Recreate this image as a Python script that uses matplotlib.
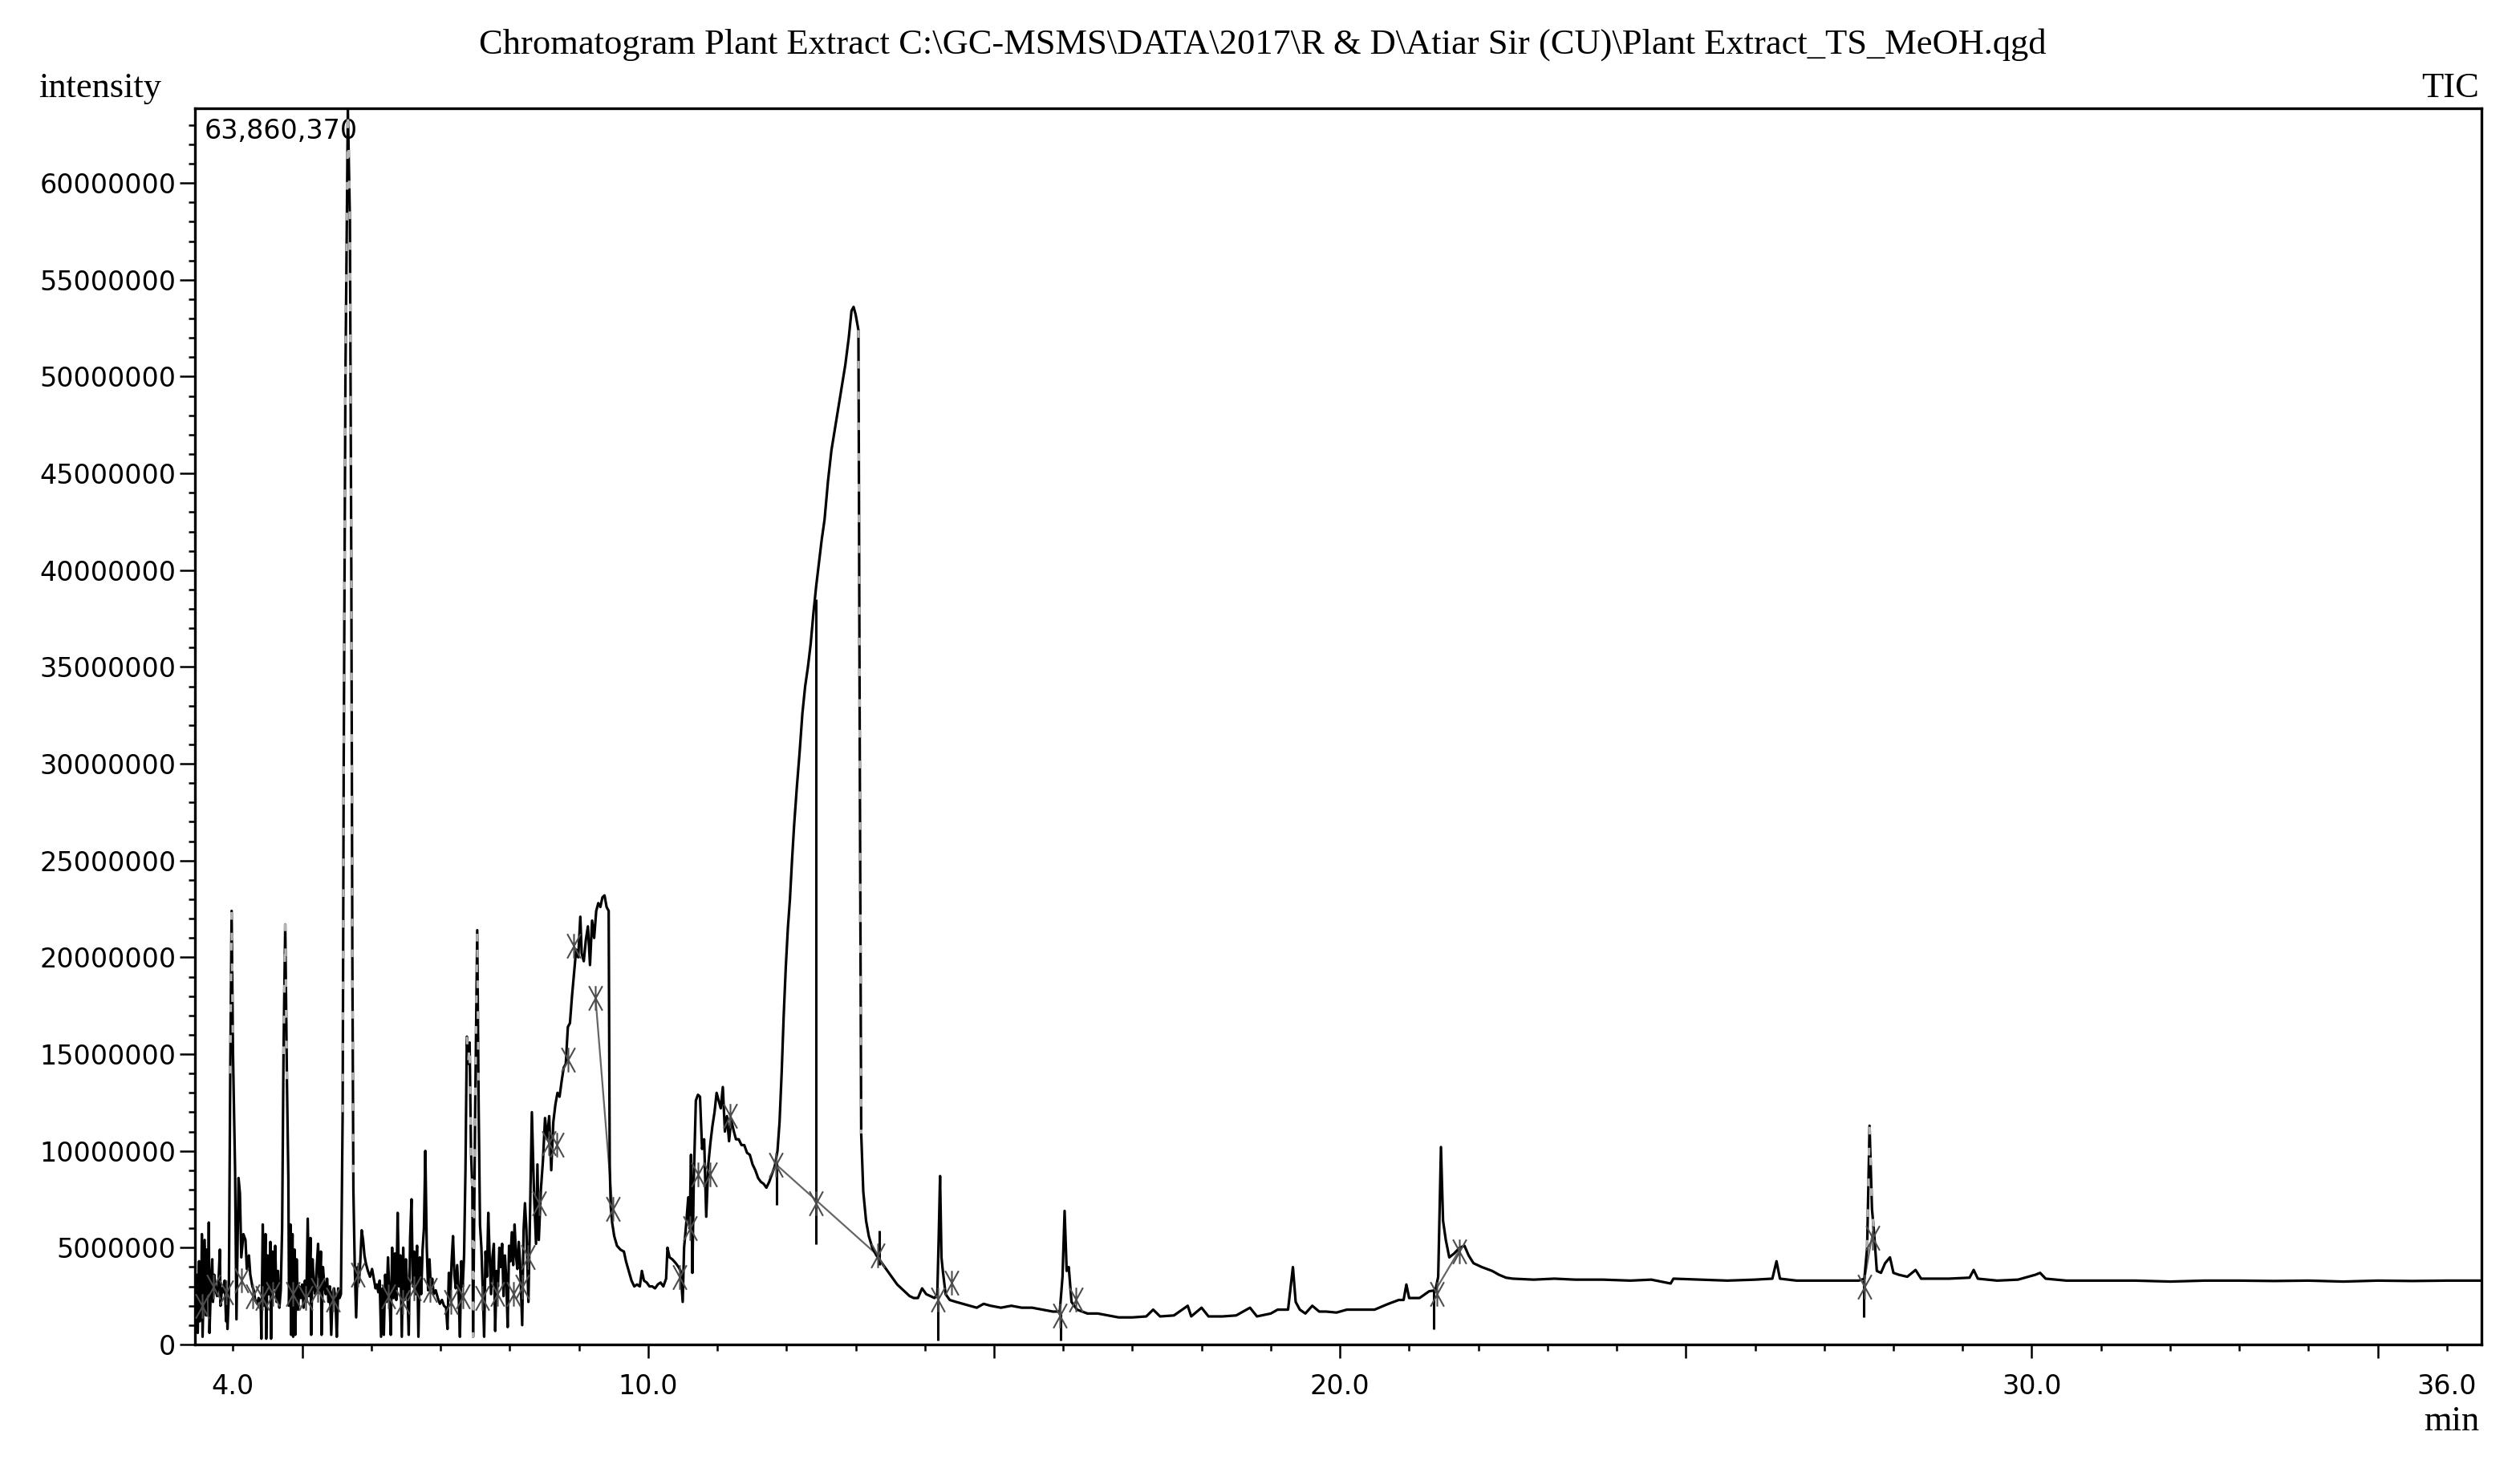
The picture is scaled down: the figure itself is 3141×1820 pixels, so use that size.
import numpy as np
import matplotlib.pyplot as plt
from matplotlib.path import Path
from matplotlib.ticker import MultipleLocator, NullFormatter, FuncFormatter


# TIC trace: (retention time in min, intensity in millions)
front = [(3.46, 1.6), (3.48, 3.6), (3.49, 0.6), (3.51, 4.3), (3.52, 1.2), (3.54, 2.4), (3.55, 5.7),
         (3.56, 0.4), (3.58, 3.8), (3.59, 5.4), (3.61, 1.5), (3.62, 4.9), (3.64, 2.6), (3.65, 6.3),
         (3.66, 0.6), (3.68, 3.0), (3.70, 4.4), (3.71, 2.2), (3.73, 3.6), (3.75, 2.8), (3.77, 2.5),
         (3.79, 3.2), (3.81, 4.9), (3.82, 2.0), (3.84, 2.9), (3.86, 2.7), (3.88, 3.3), (3.90, 1.2),
         (3.91, 2.4), (3.92, 0.8), (3.94, 2.6), (3.96, 14.0), (3.98, 22.4), (4.00, 15.0), (4.03, 9.0),
         (4.05, 1.3), (4.08, 8.6), (4.10, 7.8), (4.12, 4.5), (4.15, 5.7), (4.18, 5.4), (4.20, 3.9),
         (4.23, 4.6), (4.25, 3.6), (4.28, 3.0), (4.30, 2.8), (4.32, 2.3), (4.35, 2.1), (4.37, 2.4),
         (4.40, 2.2), (4.41, 0.3), (4.43, 6.2), (4.45, 2.0), (4.47, 5.7), (4.48, 0.3), (4.50, 4.6),
         (4.52, 2.6), (4.54, 5.3), (4.55, 0.3), (4.57, 4.8), (4.59, 2.9), (4.61, 5.1), (4.63, 2.2),
         (4.65, 3.8), (4.67, 1.9), (4.69, 2.8), (4.71, 6.0), (4.73, 15.0), (4.755, 21.7), (4.78, 13.5),
         (4.80, 8.6), (4.81, 2.0), (4.83, 6.2), (4.84, 0.5), (4.86, 5.7), (4.87, 0.4), (4.89, 4.9),
         (4.90, 0.5), (4.92, 4.4), (4.94, 1.8), (4.96, 3.0), (4.98, 2.4), (5.00, 3.1), (5.02, 1.9),
         (5.04, 3.3), (5.06, 2.2), (5.08, 6.5), (5.10, 2.5), (5.12, 5.5), (5.13, 0.5), (5.15, 4.4),
         (5.17, 3.0), (5.19, 2.6), (5.21, 4.0), (5.23, 5.2), (5.25, 2.8), (5.27, 4.8), (5.28, 0.5),
         (5.30, 4.0), (5.32, 3.1), (5.34, 2.6), (5.36, 3.4), (5.38, 2.2), (5.40, 3.0), (5.42, 0.5),
         (5.44, 2.7), (5.46, 2.9), (5.48, 2.4), (5.50, 0.4), (5.52, 2.9), (5.54, 2.4), (5.56, 2.6),
         (5.585, 12.0), (5.60, 30.0), (5.625, 50.0), (5.66, 63.86), (5.69, 58.0), (5.71, 40.0),
         (5.725, 20.0), (5.74, 8.0), (5.76, 4.0), (5.78, 1.4), (5.80, 4.0), (5.82, 3.2), (5.84, 4.3),
         (5.86, 5.9), (5.88, 5.4), (5.90, 4.6), (5.92, 4.2), (5.95, 3.8), (5.98, 3.5), (6.01, 3.9),
         (6.04, 3.3), (6.06, 2.9), (6.08, 3.1)]

middle = [(6.10, 2.7), (6.12, 3.3), (6.14, 0.4), (6.16, 2.9), (6.18, 0.5), (6.20, 3.6), (6.22, 2.2),
          (6.24, 4.5), (6.26, 2.7), (6.28, 0.5), (6.30, 5.0), (6.32, 2.4), (6.34, 4.7), (6.36, 2.3),
          (6.38, 6.8), (6.40, 3.0), (6.42, 4.6), (6.44, 0.4), (6.46, 5.0), (6.48, 2.3), (6.50, 4.4),
          (6.52, 2.8), (6.54, 0.5), (6.56, 5.5), (6.58, 7.5), (6.60, 3.0), (6.62, 4.8), (6.64, 2.6),
          (6.66, 5.1), (6.68, 0.4), (6.70, 4.5), (6.72, 2.6), (6.74, 4.9), (6.76, 6.0), (6.78, 10.0),
          (6.80, 5.1), (6.82, 2.8), (6.84, 4.4), (6.86, 2.9), (6.88, 3.4), (6.90, 2.6), (6.93, 2.8),
          (6.96, 2.4), (6.99, 2.1), (7.02, 2.3), (7.05, 2.0), (7.08, 1.9), (7.10, 0.8), (7.12, 3.7),
          (7.14, 2.4), (7.16, 4.3), (7.18, 5.6), (7.20, 3.6), (7.22, 2.9), (7.24, 4.1), (7.26, 2.8),
          (7.28, 0.4), (7.30, 4.3), (7.32, 3.0), (7.34, 4.6), (7.36, 9.0), (7.38, 15.9), (7.40, 14.5),
          (7.42, 15.6), (7.44, 10.0), (7.46, 8.0), (7.47, 0.4), (7.50, 12.0), (7.53, 21.4), (7.55, 12.5),
          (7.57, 6.2), (7.59, 5.0), (7.61, 2.8), (7.63, 0.4), (7.65, 4.8), (7.67, 3.5), (7.69, 6.8),
          (7.71, 4.5), (7.73, 2.6), (7.75, 4.5), (7.77, 5.2), (7.79, 0.7), (7.81, 3.8), (7.83, 3.0),
          (7.85, 5.0), (7.87, 4.0), (7.89, 5.2), (7.91, 2.5), (7.93, 4.6), (7.95, 3.4), (7.97, 0.9),
          (7.99, 5.1), (8.01, 4.3), (8.03, 5.8), (8.05, 4.1), (8.07, 6.2), (8.09, 4.6), (8.11, 3.9),
          (8.13, 5.3), (8.15, 4.2), (8.18, 1.0), (8.20, 5.9), (8.22, 7.3), (8.24, 6.0), (8.27, 2.2)]

hump = [(8.32, 12.0), (8.35, 7.9), (8.38, 5.2), (8.40, 9.3), (8.42, 5.4), (8.45, 8.0), (8.48, 9.5),
        (8.51, 11.7), (8.54, 10.6), (8.57, 11.8), (8.60, 9.0), (8.63, 11.5), (8.66, 12.4), (8.69, 13.0),
        (8.72, 12.8), (8.75, 13.6), (8.78, 14.3), (8.81, 14.5), (8.84, 16.4), (8.87, 16.6), (8.90, 18.0),
        (8.93, 19.2), (8.96, 20.4), (8.99, 20.0), (9.02, 22.1), (9.04, 20.2), (9.07, 19.8), (9.10, 20.9),
        (9.13, 21.6), (9.16, 19.6), (9.19, 21.9), (9.22, 21.0), (9.25, 22.4), (9.28, 22.8), (9.31, 22.6),
        (9.34, 23.1), (9.37, 23.2), (9.40, 22.6), (9.43, 22.4), (9.445, 9.3), (9.46, 7.1), (9.48, 6.3),
        (9.51, 5.6), (9.55, 5.1), (9.60, 4.9), (9.65, 4.8), (9.68, 4.3), (9.72, 3.8), (9.76, 3.3),
        (9.80, 3.0), (9.84, 3.1), (9.88, 3.0), (9.91, 3.8), (9.94, 3.3), (9.98, 3.2), (10.02, 3.0),
        (10.06, 3.0), (10.10, 2.9), (10.14, 3.1), (10.18, 3.2), (10.22, 3.0), (10.26, 3.4), (10.28, 5.0),
        (10.31, 4.5), (10.35, 4.4), (10.40, 4.2), (10.44, 4.0), (10.47, 3.8), (10.50, 2.2), (10.52, 5.0),
        (10.55, 6.2), (10.58, 7.6), (10.60, 6.0), (10.62, 9.8), (10.64, 3.7), (10.66, 8.5), (10.69, 12.6),
        (10.72, 12.9), (10.75, 12.8), (10.78, 10.1), (10.81, 10.6), (10.84, 6.6), (10.87, 9.3),
        (10.90, 10.4), (10.93, 11.3), (10.96, 12.0), (10.99, 13.0), (11.02, 12.6), (11.05, 12.2),
        (11.08, 13.3), (11.11, 11.0), (11.14, 11.8), (11.17, 10.5), (11.20, 11.6), (11.24, 11.0),
        (11.27, 10.6), (11.31, 10.6), (11.35, 10.3), (11.39, 10.3), (11.43, 9.9), (11.47, 9.8),
        (11.51, 9.3), (11.55, 9.0), (11.59, 8.6), (11.63, 8.4), (11.67, 8.3), (11.71, 8.1), (11.75, 8.4),
        (11.79, 8.8), (11.83, 9.2)]

main_peak = [(11.87, 10.0), (11.90, 11.5), (11.93, 14.0), (11.96, 17.0), (11.99, 19.5), (12.02, 21.5),
             (12.05, 23.0), (12.08, 25.0), (12.11, 26.8), (12.15, 28.8), (12.19, 30.6), (12.23, 32.6),
             (12.27, 34.0), (12.31, 35.0), (12.35, 36.2), (12.39, 37.8), (12.43, 39.2), (12.47, 40.4),
             (12.51, 41.6), (12.55, 42.6), (12.60, 44.6), (12.65, 46.2), (12.70, 47.3), (12.75, 48.4),
             (12.80, 49.5), (12.85, 50.6), (12.90, 52.0), (12.94, 53.4), (12.97, 53.6), (13.00, 53.2),
             (13.04, 52.4), (13.06, 30.0), (13.08, 10.9), (13.11, 7.9), (13.15, 6.4), (13.19, 5.6),
             (13.24, 5.0), (13.30, 4.6), (13.36, 4.3), (13.42, 4.0), (13.48, 3.7), (13.54, 3.4),
             (13.60, 3.1), (13.66, 2.9), (13.72, 2.7), (13.78, 2.5), (13.84, 2.4), (13.90, 2.4),
             (13.96, 2.9), (14.02, 2.6), (14.08, 2.5), (14.14, 2.4), (14.18, 2.6), (14.20, 5.5),
             (14.22, 8.7), (14.24, 4.5), (14.26, 3.8), (14.30, 2.6), (14.36, 2.3), (14.45, 2.2)]

tail = [(14.55, 2.1), (14.65, 2.0), (14.75, 1.9), (14.85, 2.1), (14.95, 2.0), (15.10, 1.9), (15.25, 2.0),
        (15.40, 1.9), (15.55, 1.9), (15.70, 1.8), (15.85, 1.7), (15.95, 1.7), (15.99, 3.5), (16.02, 6.9),
        (16.05, 3.8), (16.08, 4.0), (16.12, 2.2), (16.20, 1.8), (16.35, 1.6), (16.50, 1.6), (16.65, 1.5),
        (16.80, 1.4), (17.00, 1.4), (17.20, 1.45), (17.30, 1.8), (17.40, 1.45), (17.60, 1.5), (17.80, 2.0),
        (17.85, 1.45), (18.00, 1.9), (18.10, 1.45), (18.30, 1.45), (18.50, 1.5), (18.70, 1.9), (18.80, 1.45),
        (19.00, 1.6), (19.10, 1.8), (19.25, 1.8), (19.32, 4.0), (19.36, 2.2), (19.42, 1.8), (19.50, 1.6),
        (19.60, 2.0), (19.70, 1.7), (19.80, 1.7), (19.95, 1.65), (20.10, 1.8), (20.30, 1.8), (20.50, 1.8),
        (20.70, 2.1), (20.85, 2.3), (20.92, 2.3), (20.96, 3.1), (21.00, 2.4), (21.15, 2.4), (21.29, 2.75),
        (21.38, 2.8), (21.42, 3.5), (21.46, 10.2), (21.49, 6.4), (21.53, 5.4), (21.58, 4.5), (21.65, 4.7),
        (21.73, 5.0), (21.80, 5.1), (21.86, 4.6), (21.93, 4.2), (22.05, 4.0), (22.20, 3.8), (22.30, 3.6),
        (22.40, 3.45), (22.50, 3.4), (22.80, 3.35), (23.10, 3.4), (23.40, 3.35), (23.80, 3.35),
        (24.20, 3.3), (24.50, 3.35), (24.78, 3.15), (24.82, 3.4), (25.20, 3.35), (25.60, 3.3),
        (26.00, 3.35), (26.25, 3.4), (26.31, 4.3), (26.36, 3.4), (26.60, 3.3), (27.00, 3.3), (27.40, 3.3),
        (27.50, 3.3), (27.58, 3.4), (27.62, 5.0), (27.655, 11.3), (27.69, 7.0), (27.72, 5.8), (27.76, 3.8),
        (27.82, 3.7), (27.88, 4.2), (27.95, 4.5), (28.00, 3.7), (28.08, 3.6), (28.20, 3.5), (28.32, 3.85),
        (28.40, 3.4), (28.80, 3.4), (29.10, 3.45), (29.16, 3.85), (29.22, 3.4), (29.50, 3.3), (29.80, 3.35),
        (30.05, 3.6), (30.12, 3.7), (30.20, 3.4), (30.50, 3.3), (31.00, 3.3), (31.50, 3.3), (32.00, 3.25),
        (32.50, 3.3), (33.00, 3.3), (33.50, 3.28), (34.00, 3.3), (34.50, 3.25), (35.00, 3.3),
        (35.50, 3.28), (36.00, 3.3), (36.50, 3.3)]

# integration marks (time, intensity in millions)
peak_marks = [(3.55, 2.0), (3.72, 3.0), (3.90, 2.7), (4.12, 3.3), (4.28, 2.5), (4.42, 2.4), (4.58, 2.6),
              (4.86, 2.6), (5.05, 2.4), (5.22, 2.8), (5.45, 2.3), (5.80, 3.6), (6.25, 2.5), (6.45, 2.2),
              (6.62, 2.9), (6.85, 2.8), (7.15, 2.2), (7.32, 2.5), (7.60, 2.4), (7.82, 2.6), (8.05, 2.6),
              (8.18, 3.0), (8.26, 4.5), (8.42, 7.3), (8.56, 10.4), (8.68, 10.3), (8.84, 14.7), (8.92, 20.6),
              (9.24, 17.9), (9.49, 7.0), (10.45, 3.5), (10.61, 6.0), (10.72, 8.8), (10.89, 8.8),
              (11.19, 11.8), (11.85, 9.3), (12.43, 7.3), (13.32, 4.6), (14.19, 2.3), (14.39, 3.2),
              (15.95, 1.5), (16.18, 2.3), (21.40, 2.6), (21.73, 4.8), (27.58, 3.0), (27.70, 5.5)]

# peak split drop lines: time, top, bottom (millions)
drop_t = [11.86, 12.43, 13.34, 14.19, 15.96, 21.36, 27.57]
drop_top = [9.4, 38.5, 5.9, 2.4, 1.7, 2.8, 3.3]
drop_bottom = [7.2, 5.2, 4.1, 0.2, 0.2, 0.8, 1.4]

# baselines drawn under peaks: (t0, i0, t1, i1)
baselines = [(11.85, 9.3, 13.32, 4.6), (9.24, 17.9, 9.49, 6.8), (21.38, 2.8, 21.73, 4.9),
             (27.58, 3.3, 27.70, 5.8)]

# time windows where the trace is partly shown in grey (identified peaks)
grey_windows = [(3.95, 4.02), (4.72, 4.79), (5.58, 5.75), (7.37, 7.55), (13.04, 13.10), (27.61, 27.73)]

y_max = 63860370
x_labels = [4.0, 10.0, 20.0, 30.0, 36.0]
title = r'Chromatogram Plant Extract C:\GC-MSMS\DATA\2017\R & D\Atiar Sir (CU)\Plant Extract_TS_MeOH.qgd'


trace = np.array(front + middle + hump + main_peak + tail)
t = trace[:, 0]
tic = trace[:, 1] * 1e6

W, H = 3141, 1820
fig = plt.figure(figsize=(W / 100, H / 100), dpi=100)
ax = fig.add_axes([243 / W, 1 - 1676 / H, (3093 - 243) / W, (1676 - 135) / H])

ax.plot(t, tic, color='black', lw=2.3, zorder=3)

for a, b in grey_windows:
    m = (t >= a) & (t <= b)
    ax.plot(t[m], tic[m], color='0.7', lw=2.3, dashes=(3, 9), zorder=4)

for t0, i0, t1, i1 in baselines:
    ax.plot([t0, t1], [i0 * 1e6, i1 * 1e6], color='0.4', lw=1.6, zorder=2)

ax.vlines(drop_t, np.array(drop_bottom) * 1e6, np.array(drop_top) * 1e6, colors='black', lw=2.2, zorder=3)

# star shaped integration marker: vertical stroke with steep cross
star = Path([(0, -1), (0, 1), (-0.55, -1), (0.55, 1), (-0.55, 1), (0.55, -1)],
            [Path.MOVETO, Path.LINETO, Path.MOVETO, Path.LINETO, Path.MOVETO, Path.LINETO])
marks = np.array(peak_marks)
ax.plot(marks[:, 0], marks[:, 1] * 1e6, ls='none', marker=star, ms=22, mew=1.5,
        mec='0.3', mfc='none', zorder=5)

ax.set_xlim(3.45, 36.5)
ax.set_ylim(0, y_max)

for s in ax.spines.values():
    s.set_linewidth(2.4)

ax.yaxis.set_major_locator(MultipleLocator(5e6))
ax.yaxis.set_minor_locator(MultipleLocator(1e6))
ax.yaxis.set_major_formatter(FuncFormatter(lambda v, p: '%d' % int(round(v))))
ax.tick_params(axis='y', which='major', length=14, width=1.8, pad=3, labelsize=24)
ax.tick_params(axis='y', which='minor', length=6, width=1.8)

ax.xaxis.set_major_locator(MultipleLocator(5))
ax.xaxis.set_minor_locator(MultipleLocator(1))
ax.xaxis.set_major_formatter(NullFormatter())
ax.tick_params(axis='x', which='major', length=12, width=1.8)
ax.tick_params(axis='x', which='minor', length=6, width=1.8)

sec = ax.secondary_xaxis('bottom')
sec.set_xticks(x_labels, labels=['%.1f' % v for v in x_labels])
sec.tick_params(length=0, pad=26, labelsize=24)
sec.spines['bottom'].set_visible(False)

ax.text(0.004, 0.992, '63,860,370', transform=ax.transAxes, ha='left', va='top', fontsize=24)

serif = 'Liberation Serif'
fig.text(0.501, 1 - 56 / H, title, ha='center', va='center', family=serif, fontsize=32)
fig.text(48 / W, 1 - 110 / H, 'intensity', ha='left', va='center', family=serif, fontsize=32)
fig.text(3090 / W, 1 - 110 / H, 'TIC', ha='right', va='center', family=serif, fontsize=32)
fig.text(3090 / W, 1 - 1772 / H, 'min', ha='right', va='center', family=serif, fontsize=32)

plt.savefig('out.png', dpi=100)
plt.close('all')
